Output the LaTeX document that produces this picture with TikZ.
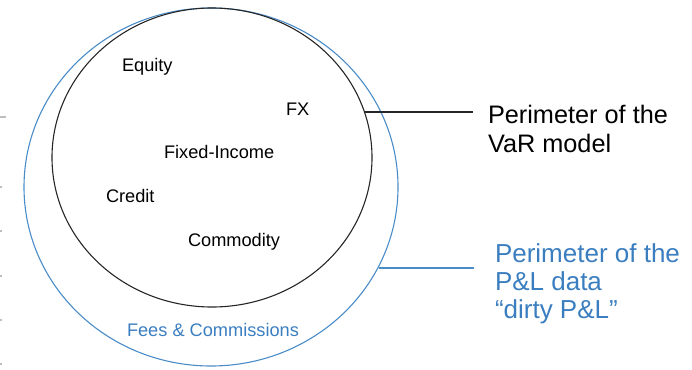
\documentclass[tikz,border=0pt]{standalone}
\usepackage{fontspec}
\setmainfont{Liberation Sans}
\usetikzlibrary{shapes.geometric}
\definecolor{lineblue}{RGB}{74,140,200}
\definecolor{textblue}{RGB}{58,126,192}
\definecolor{tickgray}{RGB}{190,190,190}
\tikzset{
  lbl/.style={inner sep=0pt, outer sep=0pt, anchor=base west, font=\fontsize{18.2}{21}\selectfont},
  biglbl/.style={inner sep=0pt, outer sep=0pt, anchor=base west, font=\fontsize{25.3}{29}\selectfont},
  bluelbl/.style={inner sep=0pt, outer sep=0pt, anchor=base west, text=textblue, font=\fontsize{26}{29}\selectfont},
  perim/.style={ellipse, inner sep=0pt, outer sep=0pt, line width=1.1pt},
  tick/.style={draw=tickgray, line width=1.3pt}
}
\begin{document}
\begin{tikzpicture}[x=1pt,y=-1pt]
\useasboundingbox (0,0) rectangle (692,369);
% faint ticks at left edge
\draw[tick] (0,117) -- (6,117);
\foreach \yy in {187,231,276,320,364} \draw[tick] (0,\yy) -- (2,\yy);
% perimeters
\node[perim, draw=lineblue, minimum width=374pt, minimum height=358pt] (pnl) at (211,187) {};
\node[perim, draw=black!85, minimum width=320pt, minimum height=299pt] (var) at (212,157.5) {};
% labels inside
\node[lbl] (eq) at (122,71) {Equity};
\node[lbl] (fx) at (286,115) {FX};
\node[lbl] (fi) at (164,158) {Fixed-Income};
\node[lbl] (cr) at (106,202) {Credit};
\node[lbl] (co) at (188,246) {Commodity};
\node[lbl, text=textblue] (fc) at (127,336) {Fees \& Commissions};
% right-hand captions
\node[biglbl] (v1) at (488,123) {Perimeter of the};
\node[biglbl] (v2) at (488,152) {VaR model};
\node[bluelbl] (p1) at (495,262) {Perimeter of the};
\node[bluelbl] (p2) at (495,290) {P\&L data};
\node[bluelbl] (p3) at (495,318) {“dirty P\&L”};
% connectors
\coordinate (vend) at (473,112);
\coordinate (pend) at (474,268);
\coordinate (vstart) at (365,112);
\coordinate (pstart) at (379,268);
\draw[black!85, line width=1.1pt] (vstart) -- (vend);
\draw[lineblue, line width=1.1pt] (pstart) -- (pend);
\end{tikzpicture}
\end{document}
